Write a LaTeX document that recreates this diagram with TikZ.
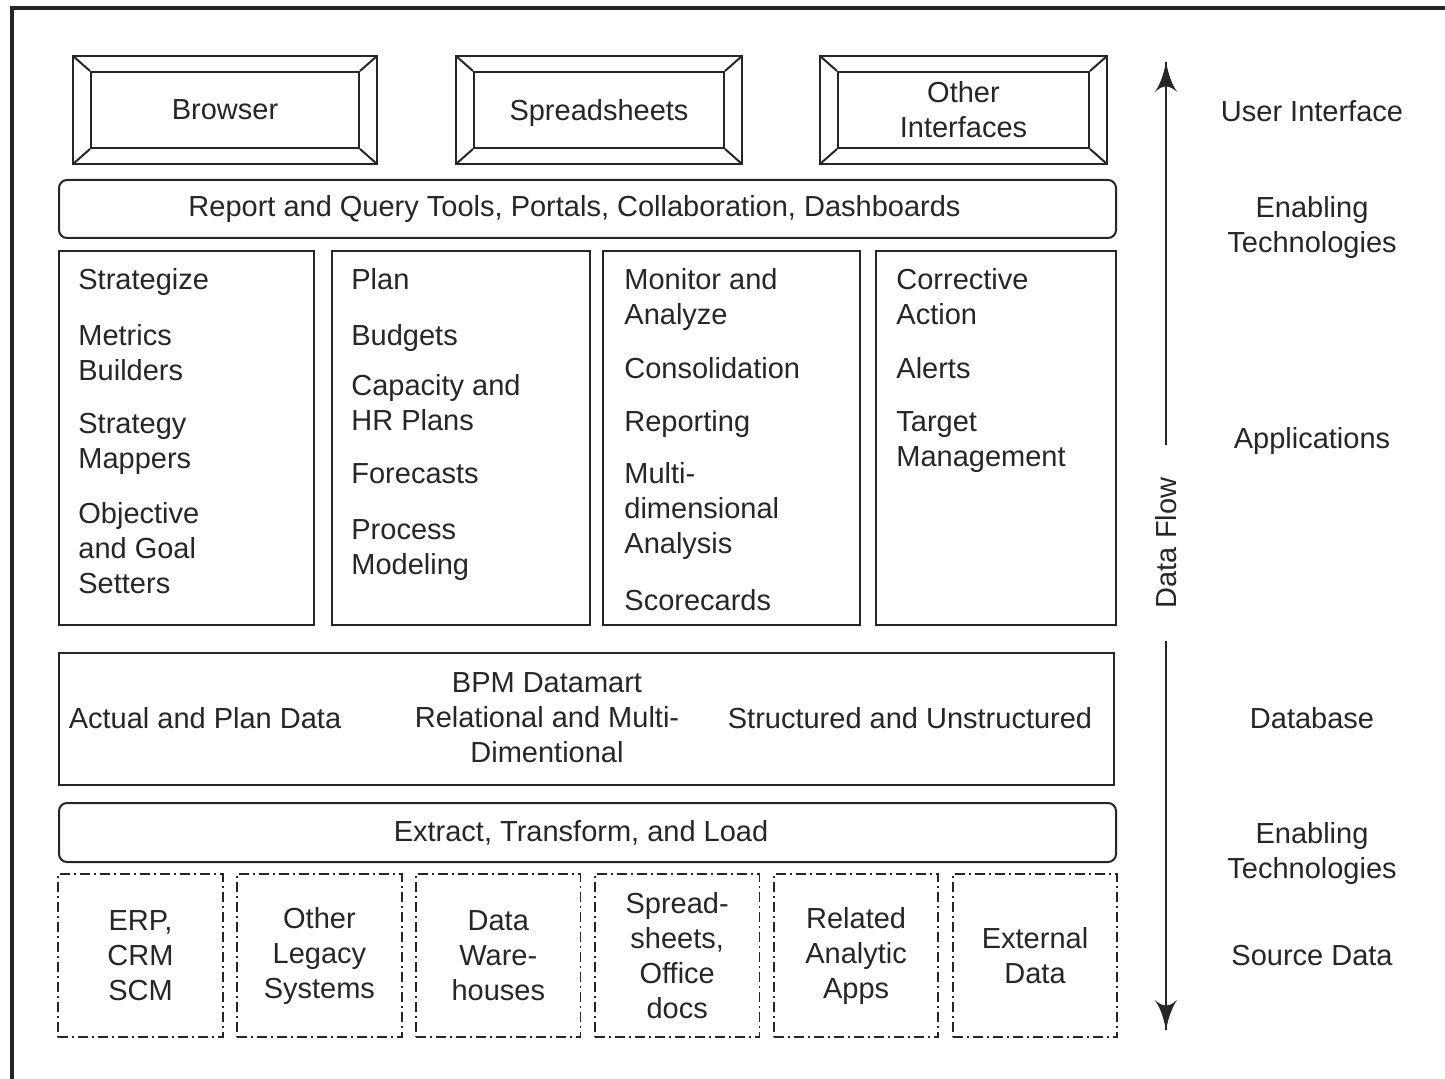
\documentclass[tikz,border=0pt]{standalone}
\usepackage{fontspec}
\setmainfont{Liberation Sans}
\usepackage{tikz}
\usetikzlibrary{arrows}
\usetikzlibrary{decorations.markings}
\usetikzlibrary{positioning}
\tikzset{flowarrow/.style = {decoration={markings,
                                         mark=at position 1 with {\arrow[scale=2.6]{latex'}}},
                             postaction={decorate}}}
\tikzset{uibox/.style = {draw, line width=1pt, minimum height=38pt, inner sep=0pt, align=center}}
\tikzset{bevel/.style = {line width=1pt}}
\tikzset{bar/.style = {draw, line width=1pt, rounded corners=4pt, minimum width=528.5pt, inner sep=0pt}}
\tikzset{appbox/.style = {draw, line width=1pt, minimum height=187pt, inner sep=0pt}}
\tikzset{items/.style = {align=left, inner sep=0pt, anchor=north west}}
\tikzset{srcbox/.style = {draw, line width=0.9pt, dash pattern=on 5pt off 2pt on 1pt off 2pt,
                          minimum width=82.25pt, minimum height=81.5pt, inner sep=0pt, align=center}}
\tikzset{layer/.style = {align=center}}
\definecolor{mgray}{rgb}{0.15, 0.15, 0.15}

\begin{document}
\begin{tikzpicture}[x=0.5pt, y=-0.5pt, font=\fontsize{14.5}{17.5}\selectfont,
                    every node/.append style={text=mgray}, draw=mgray]
    \useasboundingbox (0, 0) rectangle (1445, 1079);
    \draw [line width=1.6pt] (12, 1079) -- (12, 8) -- (1445, 8);

    % user interface
    \node [uibox, minimum width=134pt] (browser) at (225, 110) {Browser};
    \node [uibox, minimum width=125pt, text depth=0pt] (sheets) at (599, 110) {Spreadsheets};
    \node [uibox, minimum width=125.5pt] (other) at (963.5, 110) {Other\\Interfaces};
    \draw [bevel] ([shift={(-17,-15)}]browser.north west) rectangle ([shift={(17,15)}]browser.south east);
    \draw [bevel] (browser.north west) -- +(-17,-15) (browser.north east) -- +(17,-15) (browser.south west) -- +(-17,15) (browser.south east) -- +(17,15);
    \draw [bevel] ([shift={(-17,-15)}]sheets.north west) rectangle ([shift={(17,15)}]sheets.south east);
    \draw [bevel] (sheets.north west) -- +(-17,-15) (sheets.north east) -- +(17,-15) (sheets.south west) -- +(-17,15) (sheets.south east) -- +(17,15);
    \draw [bevel] ([shift={(-17,-15)}]other.north west) rectangle ([shift={(17,15)}]other.south east);
    \draw [bevel] (other.north west) -- +(-17,-15) (other.north east) -- +(17,-15) (other.south west) -- +(-17,15) (other.south east) -- +(17,15);

    \node [bar, minimum height=29pt] (tools) at (587.5, 209) {Report and Query Tools, Portals, Collaboration, Dashboards\hspace*{13pt}};

    % applications
    \node [appbox, minimum width=127.5pt] (strat) at (186.5, 438) {};
    \node [appbox, minimum width=129pt] (plan) at (461, 438) {};
    \node [appbox, minimum width=128.5pt] (monitor) at (731.5, 438) {};
    \node [appbox, minimum width=120pt] (correct) at (996, 438) {};
    \node [items] (stratitems) at ([shift={(20,18)}]strat.north west)
      {Strategize\\[10.5pt]Metrics\\Builders\\[9pt]Strategy\\Mappers\\[10pt]Objective\\and Goal\\Setters};
    \node [items] (planitems) at ([shift={(20,18)}]plan.north west)
      {Plan\\[10.5pt]Budgets\\[7.5pt]Capacity and\\HR Plans\\[9pt]Forecasts\\[10.5pt]Process\\Modeling};
    \node [items] (monitoritems) at ([shift={(22,18)}]monitor.north west)
      {Monitor and\\Analyze\\[9.5pt]Consolidation\\[9pt]Reporting\\[8.5pt]Multi-\\dimensional\\Analysis\\[11pt]Scorecards};
    \node [items] (correctitems) at ([shift={(21,18)}]correct.north west)
      {Corrective\\Action\\[9.5pt]Alerts\\[9pt]Target\\Management};

    % database
    \node [draw, line width=1pt, minimum width=527.5pt, minimum height=66pt] (db) at (586.5, 719) {};
    \node (actual) at (205, 718) {Actual and Plan Data};
    \node [align=center] (datamart) at (547, 718) {BPM Datamart\\Relational and Multi-\\Dimentional};
    \node (structured) at (910, 718) {Structured and Unstructured};

    \node [bar, minimum height=29.5pt] (etl) at (587.5, 832.5) {Extract, Transform, and Load\hspace*{6.5pt}};

    % source data
    \node [srcbox] (erp) at (140.5, 955.5) {ERP,\\CRM\\SCM};
    \node [srcbox, right=6.3pt of erp] (legacy) {Other\\Legacy\\Systems};
    \node [srcbox, right=6.3pt of legacy] (warehouses) {Data\\Ware-\\houses};
    \node [srcbox, right=6.3pt of warehouses] (office) {Spread-\\sheets,\\Office\\docs};
    \node [srcbox, right=6.3pt of office] (analytic) {Related\\Analytic\\Apps};
    \node [srcbox, right=6.3pt of analytic] (external) {External\\Data};

    % data flow
    \coordinate (flowtop) at (1166, 62);
    \coordinate (flowbot) at (1166, 1030);
    \node [rotate=90, inner xsep=16pt, inner ysep=0pt] (flow) at (1166, 543) {Data Flow};
    \draw [line width=1pt, flowarrow] (flow) -- (flowtop);
    \draw [line width=1pt, flowarrow] (flow) -- (flowbot);

    % layers
    \node [layer] (uilabel) at (1312, 111) {User Interface};
    \node [layer] (enablelabel) at (1312, 228) {Enabling\\Technologies};
    \node [layer] (applabel) at (1312, 441) {Applications};
    \node [layer] (dblabel) at (1312, 718) {Database};
    \node [layer] (etllabel) at (1312, 853) {Enabling\\Technologies};
    \node [layer] (srclabel) at (1312, 956) {Source Data};
  \end{tikzpicture}
\end{document}
